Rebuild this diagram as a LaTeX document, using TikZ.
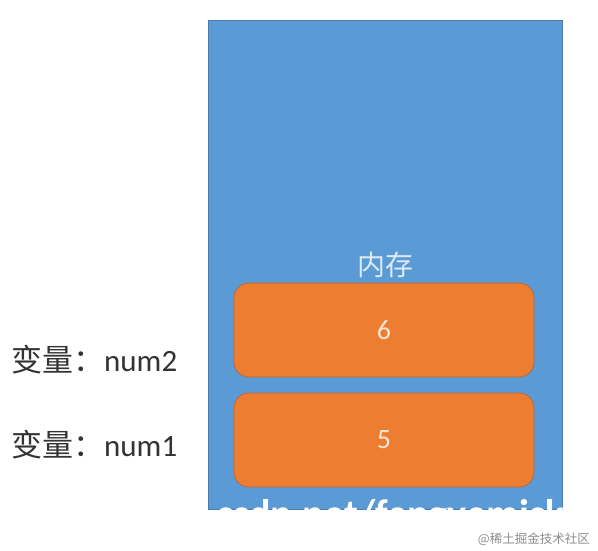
\documentclass[tikz,border=0pt]{standalone}
\usepackage{fontspec}
\setmainfont{Carlito}
\newfontfamily\cjk{Noto Sans CJK SC}
\definecolor{memblue}{HTML}{5B9BD5}
\definecolor{memedge}{HTML}{4A7DAE}
\definecolor{cellorange}{HTML}{ED7D31}
\definecolor{celledge}{HTML}{B8683A}
\definecolor{memtext}{HTML}{DCEAF7}
\definecolor{celltext}{HTML}{FBE5D6}
\definecolor{vartext}{HTML}{333333}
\tikzset{
  cell/.style={draw=celledge, fill=cellorange, line width=0.8pt, rounded corners=15pt,
    minimum width=300pt, minimum height=94pt, text=celltext, font=\fontsize{28}{28}\selectfont},
  var/.style={anchor=west, text=vartext, inner sep=0pt, font=\fontsize{31}{31}\selectfont}
}
\begin{document}
\begin{tikzpicture}[x=1pt,y=-1pt]
\useasboundingbox (0,0) rectangle (598,550);
\draw[memedge, fill=memblue, line width=1pt] (208,20) rectangle (562,509);
\node[text=memtext, font=\cjk\fontsize{28}{28}\selectfont] (mem) at (385,265) {内存};

\foreach \y/\v/\n/\ly in {330/6/2/360,440/5/1/445}{
\node[cell] (cell\n) at (384,\y) {\v};
\node[var] (var\n) at (11,\ly) {{\cjk 变量：}num\n};
}

% watermark, only its upper half shows
\begin{scope}
\clip (208,20) rectangle (562,509);
\node[anchor=base west, text=white, inner sep=0pt, font=\bfseries\fontsize{40}{40}\selectfont] (wm) at (134,527) {blog.csdn.net/fengyemickey};
\end{scope}
\node[anchor=east, text=black!45, inner sep=0pt, font=\cjk\fontsize{12.5}{12.5}\selectfont] (site) at (590,539) {@稀土掘金技术社区};
\end{tikzpicture}
\end{document}
